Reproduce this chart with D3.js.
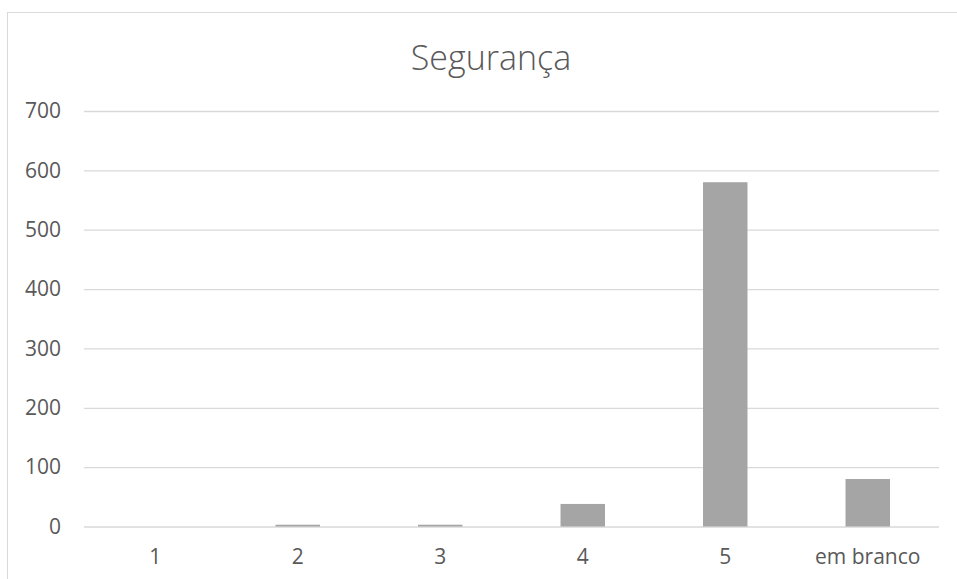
<!DOCTYPE html>
<html><head><meta charset="utf-8">
<script src="https://cdn.jsdelivr.net/npm/d3@7"></script>
<style>html,body{margin:0;padding:0;background:#fff;overflow:hidden}</style>
</head><body>
<svg id="c" width="957" height="579"></svg>
<script>
const title = "Segurança";
const categories = ["1","2","3","4","5","em branco"];
const values = [0, 3, 3, 38, 580, 80];
const yTicks = [0,100,200,300,400,500,600,700];

(function(){
const svg = d3.select("#c");
const W = 957, H = 579;
const pLeft = 84, pRight = 939, pTop = 111, pBottom = 526.5;
const FONT = "'Open Sans', Lato, sans-serif";

svg.append("rect").attr("x",7.5).attr("y",12.5).attr("width",W).attr("height",H)
  .attr("fill","#fff").attr("stroke","#d9d9d9").attr("stroke-width",1);

const x = d3.scaleBand().domain(categories).range([pLeft,pRight]).paddingInner(0.688).paddingOuter(0.344);
const y = d3.scaleLinear().domain([0,700]).range([pBottom,pTop]);

const yAxis = d3.axisLeft(y).tickValues(yTicks).tickSize(-(pRight-pLeft)).tickPadding(23);
const gy = svg.append("g").attr("transform",`translate(${pLeft},0)`).call(yAxis);
gy.select(".domain").remove();
gy.selectAll(".tick line").attr("stroke","#d9d9d9").attr("stroke-width",1.3);
gy.selectAll(".tick text").attr("fill","#595959").style("font-family",FONT).style("font-size","21px");

svg.append("g").selectAll("rect").data(values).join("rect")
  .attr("x",(d,i)=>x(categories[i]))
  .attr("width",x.bandwidth())
  .attr("y",d=>y(d))
  .attr("height",d=>y(0)-y(d))
  .attr("fill","#a5a5a5");

const xAxis = d3.axisBottom(x).tickSize(0).tickPadding(23);
const gx = svg.append("g").attr("transform",`translate(0,${pBottom})`).call(xAxis);
gx.select(".domain").remove();
gx.selectAll(".tick text").attr("fill","#595959").style("font-family",FONT).style("font-size","21px");

svg.append("text").attr("x",491).attr("y",69.5).attr("text-anchor","middle")
  .attr("fill","#595959").style("font-family",FONT)
  .style("font-weight",300).style("font-size","34px").text(title);
})();
</script>
</body></html>
